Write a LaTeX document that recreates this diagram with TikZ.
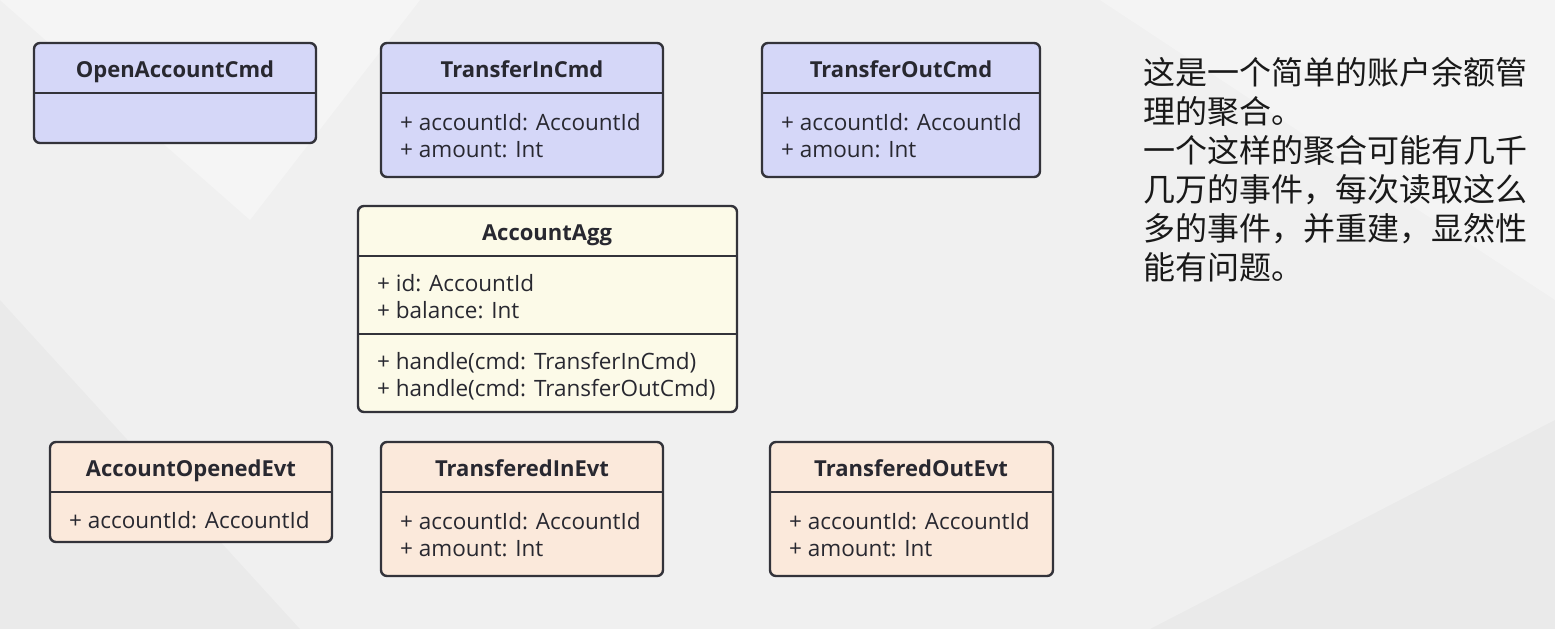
\documentclass[tikz,border=0pt]{standalone}
\usepackage{fontspec}
\setmainfont{Open Sans}
\newfontfamily\cjk{Noto Sans CJK SC}
\definecolor{bgc}{RGB}{240,240,240}
\definecolor{cmdc}{RGB}{213,215,248}
\definecolor{aggc}{RGB}{252,250,232}
\definecolor{evtc}{RGB}{251,233,219}
\definecolor{linec}{RGB}{51,51,58}
\definecolor{txtc}{RGB}{40,40,48}
\tikzset{
  boxframe/.style={draw=linec, line width=2.4pt, rounded corners=6pt},
  divline/.style={draw=linec, line width=2.4pt},
  ttl/.style={font=\fontsize{22}{26}\selectfont\bfseries, text=txtc, inner sep=0pt, anchor=base},
  mem/.style={font=\fontsize{22.5}{26}\selectfont, text=txtc, inner sep=0pt, anchor=base west},
  note/.style={font=\cjk\fontsize{32}{39}\selectfont, text=black!90, inner sep=0pt, anchor=north west, align=left}
}
\begin{document}
\begin{tikzpicture}[x=1pt,y=-1pt]
\fill[bgc] (0,0) rectangle (1555,629);
\useasboundingbox (0,0) rectangle (1555,629);
\fill[white, opacity=0.35] (0,0) -- (420,0) -- (250,220) -- cycle;
\fill[white, opacity=0.3] (1100,0) -- (1555,0) -- (1555,300) -- cycle;
\fill[black, opacity=0.025] (0,300) -- (300,629) -- (0,629) -- cycle;
\fill[black, opacity=0.025] (1150,629) -- (1555,420) -- (1555,629) -- cycle;

% OpenAccountCmd
\draw[boxframe, fill=cmdc] (34,43) rectangle (316,143);
\draw[divline] (34,93) -- (316,93);
\node[ttl] (oac) at (175,77) {OpenAccountCmd};

% TransferInCmd
\draw[boxframe, fill=cmdc] (381,43) rectangle (663,177);
\draw[divline] (381,93) -- (663,93);
\node[ttl] (tic) at (522,77) {TransferInCmd};
\node[mem] (tic1) at (400,130) {+ accountId: AccountId};
\node[mem] (tic2) at (400,157) {+ amount: Int};

% TransferOutCmd
\draw[boxframe, fill=cmdc] (762,43) rectangle (1040,177);
\draw[divline] (762,93) -- (1040,93);
\node[ttl] (toc) at (901,77) {TransferOutCmd};
\node[mem] (toc1) at (781,130) {+ accountId: AccountId};
\node[mem] (toc2) at (781,157) {+ amoun: Int};

% AccountAgg
\draw[boxframe, fill=aggc] (358,206) rectangle (737,412);
\draw[divline] (358,256) -- (737,256);
\draw[divline] (358,334) -- (737,334);
\node[ttl] (agg) at (547,240) {AccountAgg};
\node[mem] (agg1) at (377,291) {+ id: AccountId};
\node[mem] (agg2) at (377,318) {+ balance: Int};
\node[mem] (agg3) at (377,369) {+ handle(cmd: TransferInCmd)};
\node[mem] (agg4) at (377,396) {+ handle(cmd: TransferOutCmd)};

% AccountOpenedEvt
\draw[boxframe, fill=evtc] (50,442) rectangle (332,542);
\draw[divline] (50,492) -- (332,492);
\node[ttl] (aoe) at (191,476) {AccountOpenedEvt};
\node[mem] (aoe1) at (69,528) {+ accountId: AccountId};

% TransferedInEvt
\draw[boxframe, fill=evtc] (381,442) rectangle (663,576);
\draw[divline] (381,492) -- (663,492);
\node[ttl] (tie) at (522,476) {TransferedInEvt};
\node[mem] (tie1) at (400,529) {+ accountId: AccountId};
\node[mem] (tie2) at (400,556) {+ amount: Int};

% TransferedOutEvt
\draw[boxframe, fill=evtc] (770,442) rectangle (1053,576);
\draw[divline] (770,492) -- (1053,492);
\node[ttl] (toe) at (911,476) {TransferedOutEvt};
\node[mem] (toe1) at (789,529) {+ accountId: AccountId};
\node[mem] (toe2) at (789,556) {+ amount: Int};

% note
\node[note] (txt) at (1143,57) {这是一个简单的账户余额管\\理的聚合。\\一个这样的聚合可能有几千\\几万的事件，每次读取这么\\多的事件，并重建，显然性\\能有问题。};
\end{tikzpicture}
\end{document}
